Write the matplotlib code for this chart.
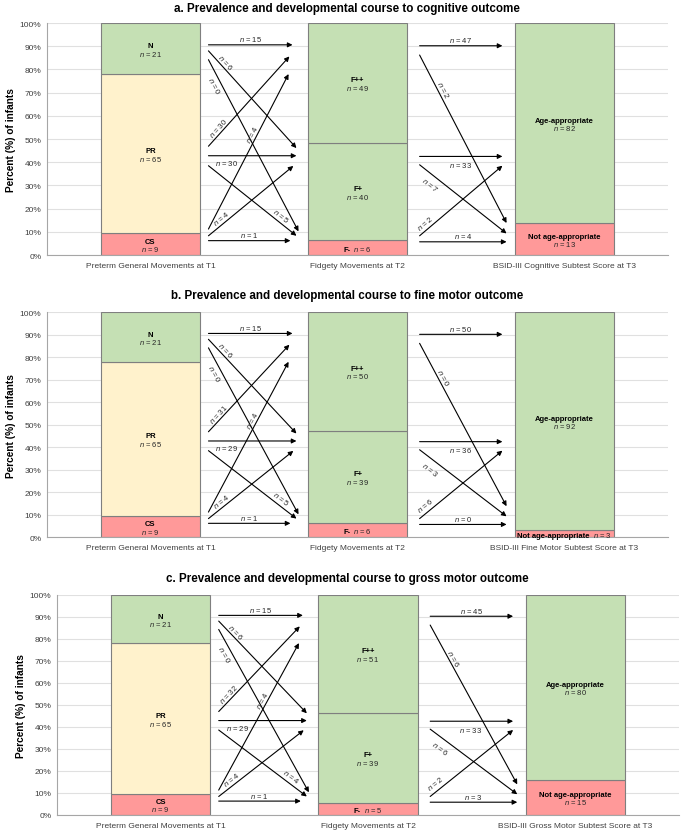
import numpy as np
import matplotlib
matplotlib.use('Agg')
import matplotlib.pyplot as plt

plt.rcParams['font.family'] = ['Liberation Sans', 'DejaVu Sans']
plt.rcParams['mathtext.fontset'] = 'custom'
plt.rcParams['mathtext.it'] = 'Liberation Sans:italic'
plt.rcParams['mathtext.rm'] = 'Liberation Sans'

# data
panel_letters = ['a', 'b', 'c']
outcomes = ['cognitive', 'fine motor', 'gross motor']
t3_axis_names = ['BSID-III Cognitive Subtest Score at T3',
                 'BSID-III Fine Motor Subtest Score at T3',
                 'BSID-III Gross Motor Subtest Score at T3']
time_names = ['Preterm General Movements at T1', 'Fidgety Movements at T2']

t1_names = ['N', 'PR', 'CS']
t1_counts = [21, 65, 9]
t2_names = ['F++', 'F+', 'F-']
t2_counts = [[49, 40, 6], [50, 39, 6], [51, 39, 5]]
t3_names = ['Age-appropriate', 'Not age-appropriate']
t3_counts = [[82, 13], [92, 3], [80, 15]]

# flows[source][target], sources/targets ordered top to bottom
flows_t1_t2 = [
    [[15, 6, 0], [30, 30, 5], [4, 4, 1]],
    [[15, 6, 0], [31, 29, 5], [4, 4, 1]],
    [[15, 6, 0], [32, 29, 4], [4, 4, 1]],
]
flows_t2_t3 = [
    [[47, 2], [33, 7], [2, 4]],
    [[50, 0], [36, 3], [6, 0]],
    [[45, 6], [33, 6], [2, 3]],
]

# colours
GREEN = '#c5e0b4'
YELLOW = '#fff2cc'
RED = '#ff9999'
t1_colors = [GREEN, YELLOW, RED]
t2_colors = [GREEN, GREEN, RED]
t3_colors = [GREEN, RED]

# arrow layout (schematic positions, same in every panel)
g1_ystart = [[90.6, 88.0, 84.2], [46.9, 42.8, 38.5], [11.2, 8.3, 6.2]]
g1_yend = [[90.6, 46.1, 10.2], [85.6, 42.8, 8.3], [78.0, 38.4, 6.2]]
g1_xend = [[0.686, 0.705, 0.715], [0.671, 0.705, 0.705], [0.667, 0.69, 0.676]]
g1_lab = [[(0.5, 6), (0.15, 5), (0.13, -7)],
          [(0.17, 5), (0.21, -7), (0.78, 7)],
          [(0.6, 5), (0.2, 6), (0.5, 6)]]
g2_ystart = [[90.2, 86.2], [42.5, 38.9], [8.3, 5.7]]
g2_yend = [[90.2, 13.8], [42.5, 9.3], [38.5, 5.7]]
g2_xend = [0.70, 0.72]
g2_lab = [[(0.5, 6), (0.22, 5)],
          [(0.49, -8), (0.18, -9)],
          [(0.12, 7), (0.5, 6)]]

axes_boxes = [[0.0686, 0.6941, 0.9066, 0.2772],
              [0.0686, 0.3569, 0.9066, 0.2688],
              [0.0832, 0.0254, 0.9080, 0.2629]]
title_y = [0.989, 0.6464, 0.3082]

fig = plt.figure(figsize=(6.85, 8.37), dpi=100)
renderer = fig.canvas.get_renderer()
FS = 5.5


def draw_flow(ax, x0, y0, x1, y1, n, t, off):
    ax.annotate('', xy=(x1, y1), xytext=(x0, y0),
                arrowprops=dict(arrowstyle='-|>', color='black', lw=0.8,
                                mutation_scale=7, shrinkA=0, shrinkB=0))
    p0 = ax.transData.transform((x0, y0))
    p1 = ax.transData.transform((x1, y1))
    d = p1 - p0
    ang = np.degrees(np.arctan2(d[1], d[0]))
    nrm = np.array([-d[1], d[0]]) / np.hypot(d[0], d[1])
    pos = p0 + t * d + off * nrm
    xy = ax.transData.inverted().transform(pos)
    ax.text(xy[0], xy[1], f'$n$ = {n}', rotation=ang, rotation_mode='anchor',
            ha='center', va='center', fontsize=5.5, color='#262626')


def seg_label(ax, x, mid, name, n, inline):
    if not inline:
        ax.annotate(name, (x, mid), xytext=(0, 1.5), textcoords='offset pixels',
                    ha='center', va='baseline', fontsize=FS, fontweight='bold')
        ax.annotate(f'$n$ = {n}', (x, mid), xytext=(0, -7), textcoords='offset pixels',
                    ha='center', va='baseline', fontsize=FS, color='#262626')
        return
    a = ax.annotate(name, (x, mid), xytext=(0, -3), textcoords='offset pixels',
                    ha='left', va='baseline', fontsize=FS, fontweight='bold')
    b = ax.annotate(f'$n$ = {n}', (x, mid), xytext=(0, -3), textcoords='offset pixels',
                    ha='left', va='baseline', fontsize=FS, color='#262626')
    w1 = a.get_window_extent(renderer).width
    w2 = b.get_window_extent(renderer).width
    gap = 3
    total = w1 + gap + w2
    a.xyann = (-total / 2, -3)
    b.xyann = (-total / 2 + w1 + gap, -3)


for p in range(3):
    ax = fig.add_axes(axes_boxes[p])
    ax.set_xlim(-0.5, 2.5)
    ax.set_ylim(0, 100)
    ax.set_yticks(range(0, 101, 10))
    ax.set_yticklabels([f'{v}%' for v in range(0, 101, 10)])
    ax.yaxis.grid(True, color='#e0e0e0', lw=0.8)
    ax.set_axisbelow(True)
    for s in ['top', 'right']:
        ax.spines[s].set_visible(False)
    for s in ['left', 'bottom']:
        ax.spines[s].set_color('#a6a6a6')
        ax.spines[s].set_linewidth(0.8)
    ax.tick_params(length=0, labelsize=6, colors='#404040', pad=4)
    ax.tick_params(axis='x', pad=5)
    ax.set_xticks([0, 1, 2])
    ax.set_xticklabels(time_names + [t3_axis_names[p]])
    ax.set_ylabel('Percent (%) of infants', fontsize=7.3, fontweight='bold', labelpad=3)

    stacks = [(t1_names, t1_counts, t1_colors),
              (t2_names, t2_counts[p], t2_colors),
              (t3_names, t3_counts[p], t3_colors)]
    for x, (names, counts, colors) in enumerate(stacks):
        pct = np.array(counts) / sum(counts) * 100
        bottom = 0.0
        for name, c, v, col in reversed(list(zip(names, counts, pct, colors))):
            ax.bar(x, v, bottom=bottom, width=0.48, color=col,
                   edgecolor='#7f7f7f', linewidth=0.8, zorder=2)
            seg_label(ax, x, bottom + v / 2, name, c, v < 8)
            bottom += v

    fl = flows_t1_t2[p]
    for i in range(3):
        for j in range(3):
            t, off = g1_lab[i][j]
            draw_flow(ax, 0.28, g1_ystart[i][j], g1_xend[i][j], g1_yend[i][j],
                      fl[i][j], t, off)
    fl = flows_t2_t3[p]
    for i in range(3):
        for j in range(2):
            t, off = g2_lab[i][j]
            draw_flow(ax, 1.30, g2_ystart[i][j], 1 + g2_xend[j], g2_yend[i][j],
                      fl[i][j], t, off)

    fig.text(0.507, title_y[p],
             f'{panel_letters[p]}. Prevalence and developmental course to {outcomes[p]} outcome',
             ha='center', va='center', fontsize=8.4, fontweight='bold')

fig.savefig('out.png', dpi=100)
